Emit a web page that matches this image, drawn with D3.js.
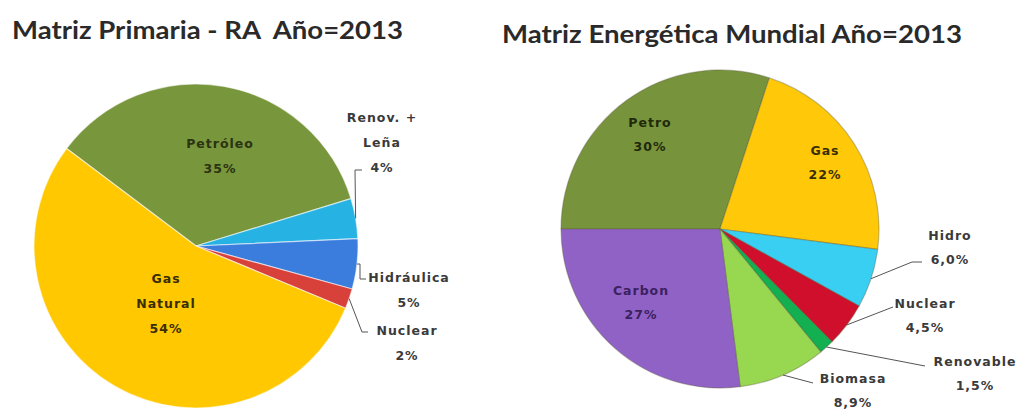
<!DOCTYPE html>
<html>
<head>
<meta charset="utf-8">
<script src="https://cdn.jsdelivr.net/npm/d3@7"></script>
<style>
  html, body { margin: 0; padding: 0; background: #fff; }
  svg { display: block; }
  text { white-space: pre; }
</style>
</head>
<body>
<svg id="chart" width="1021" height="411"></svg>
<script>
// ---- Matriz Primaria - RA, 2013 ----
const raNames  = ["Petróleo", "Renov. + Leña", "Hidráulica", "Nuclear", "Gas Natural"];
const raValues = [35, 4, 5, 2, 54];
const raLabels = [["Petróleo", "35%"], ["Renov. +", "Leña", "4%"], ["Hidráulica", "5%"], ["Nuclear", "2%"], ["Gas", "Natural", "54%"]];
const raColors = ["#78963c", "#26b3e3", "#3b7ddd", "#d8403a", "#ffc800"];

// ---- Matriz Energética Mundial, 2013 ----
const wNames  = ["Petro", "Gas", "Hidro", "Nuclear", "Renovable", "Biomasa", "Carbon"];
const wValues = [30, 22, 6.0, 4.5, 1.5, 8.9, 27];
const wLabels = [["Petro", "30%"], ["Gas", "22%"], ["Hidro", "6,0%"], ["Nuclear", "4,5%"], ["Renovable", "1,5%"], ["Biomasa", "8,9%"], ["Carbon", "27%"]];
const wColors = ["#77933c", "#ffc90a", "#38cff3", "#cf0f2b", "#12b050", "#98d850", "#9062c6"];

const svg = d3.select("#chart");
const font = "'DejaVu Sans', sans-serif";

// Titles
svg.append("text")
  .attr("x", 12).attr("y", 39)
  .attr("font-family", "Lato, sans-serif").attr("font-weight", 700)
  .attr("font-size", 25).attr("fill", "#2a2a2a")
  .attr("textLength", 391).attr("lengthAdjust", "spacingAndGlyphs")
  .text("Matriz Primaria - RA  Año=2013");

svg.append("text")
  .attr("x", 502).attr("y", 43)
  .attr("font-family", "Lato, sans-serif").attr("font-weight", 700)
  .attr("font-size", 25).attr("fill", "#2a2a2a")
  .attr("textLength", 460).attr("lengthAdjust", "spacingAndGlyphs")
  .text("Matriz Energética Mundial Año=2013");

// Draws one pie with its labels and leader lines.
// layout.labels: per slice, {x, y} centre of the label block; inside labels sit on the slice
function drawPie(cfg) {
  const { values, labels, colors, cx, cy, r, start, layout, stroke, labelFill } = cfg;
  const pie = d3.pie().sort(null).value(d => d)
    .startAngle(start).endAngle(start + 2 * Math.PI);
  const arcs = pie(values);
  const arc = d3.arc().innerRadius(0).outerRadius(r);
  const g = svg.append("g").attr("transform", `translate(${cx},${cy})`);

  g.selectAll("path.slice").data(arcs).join("path")
    .attr("class", "slice")
    .attr("d", arc)
    .attr("fill", (d, i) => colors[i])
    .attr("stroke", stroke)
    .attr("stroke-width", 1.2)
    .attr("stroke-linejoin", "round");

  const lineH = layout.lineH;
  arcs.forEach((a, i) => {
    const L = layout.labels[i];
    const lines = labels[i];
    const block = g.append("text")
      .attr("font-family", font).attr("font-size", layout.fontSize)
      .attr("font-weight", 700)
      .attr("letter-spacing", layout.spacing)
      .attr("fill", L.inside ? labelFill[i] : "#3a3a3a")
      .attr("text-anchor", "middle");
    const x0 = L.x - cx, y0 = L.y - cy - (lines.length - 1) * lineH / 2;
    lines.forEach((t, k) => {
      block.append("tspan")
        .attr("x", x0).attr("y", y0 + k * lineH)
        .attr("dy", "0.35em")
        .text(t);
    });

    if (L.leader) {
      // leader line starts on the slice's outer edge at its mid angle
      const mid = (a.startAngle + a.endAngle) / 2;
      const p0 = [Math.sin(mid) * r, -Math.cos(mid) * r];
      const pts = [p0].concat(L.leader.map(p => [p[0] - cx, p[1] - cy]));
      g.append("path")
        .attr("d", d3.line()(pts))
        .attr("fill", "none")
        .attr("stroke", "#555")
        .attr("stroke-width", 1);
    }
  });
}

drawPie({
  values: raValues, labels: raLabels, colors: raColors,
  cx: 196, cy: 246, r: 162, start: -53 * Math.PI / 180,
  stroke: "rgba(255,255,255,0.55)",
  labelFill: ["#2b3312", "#333", "#333", "#333", "#3a2e00"],
  layout: {
    fontSize: 12.5, spacing: 1, lineH: 25,
    labels: [
      { x: 220, y: 156, inside: true },
      { x: 382, y: 143, leader: [[355, 170], [362, 170]] },
      { x: 409, y: 290, leader: [[360, 264], [360, 279], [366, 279]] },
      { x: 407, y: 343, leader: [[362, 332], [368, 332]] },
      { x: 166, y: 304, inside: true }
    ]
  }
});

drawPie({
  values: wValues, labels: wLabels, colors: wColors,
  cx: 720, cy: 229, r: 159, start: -Math.PI / 2,
  stroke: "rgba(90,90,60,0.35)",
  labelFill: ["#1f2a0a", "#3a2e00", "#333", "#333", "#333", "#333", "#3b2160"],
  layout: {
    fontSize: 12.5, spacing: 1, lineH: 24,
    labels: [
      { x: 650, y: 135, inside: true },
      { x: 825, y: 163, inside: true },
      { x: 950, y: 248, leader: [[912, 262], [922, 262]] },
      { x: 925, y: 316, leader: [[893, 307]] },
      { x: 975, y: 374, leader: [[925, 366]] },
      { x: 853, y: 391, leader: [[813, 383]] },
      { x: 641, y: 303, inside: true }
    ]
  }
});
</script>
</body>
</html>
